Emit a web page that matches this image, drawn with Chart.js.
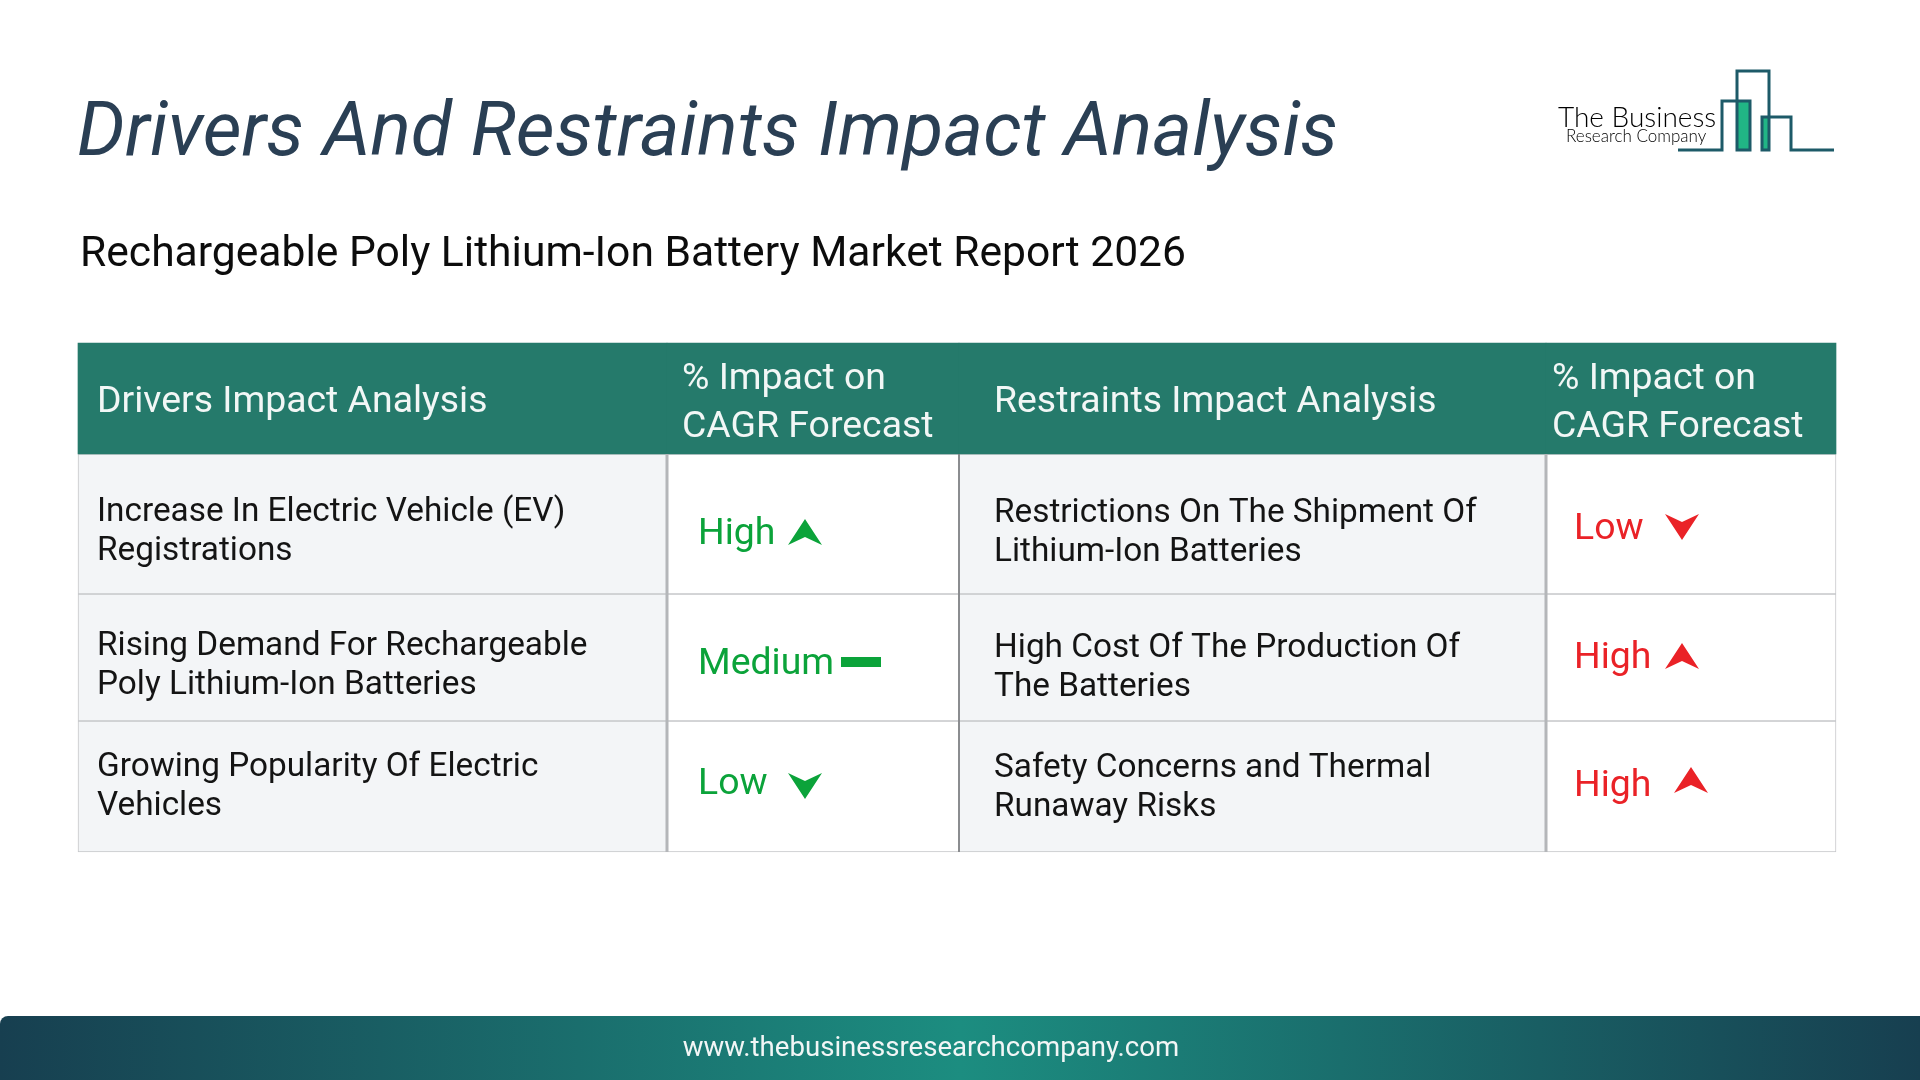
<!DOCTYPE html>
<html>
<head>
<meta charset="utf-8">
<title>Drivers And Restraints Impact Analysis</title>
<script src="https://cdn.jsdelivr.net/npm/chart.js@4"></script>
<style>
  html, body { margin: 0; width: 1920px; height: 1080px; overflow: hidden; background: #fff; font-family: Roboto, sans-serif; }
  canvas { position: absolute; left: 0; top: 0; }
  .abs { position: absolute; white-space: nowrap; line-height: 1; }
  #title { left: 77px; top: 92px; font-size: 75.5px; font-style: italic; color: #2a3f54; }
  #subtitle { left: 80px; top: 230px; font-size: 42.6px; color: #0c0c0c; }
  #footer { position: absolute; left: 0; top: 1016px; width: 1920px; height: 64px; border-top-left-radius: 8px;
    background: linear-gradient(90deg, #173f50 0%, #1c8d80 50%, #173f50 100%); }
  #url { left: 0; width: 1862px; top: 1033px; text-align: center; font-size: 27.6px; color: #f2f6f6; }
  #logo { position: absolute; left: 0; top: 0; }
</style>
</head>
<body>
<canvas id="chart" width="1920" height="1080"></canvas>
<div class="abs" id="title">Drivers And Restraints Impact Analysis</div>
<div class="abs" id="subtitle">Rechargeable Poly Lithium-Ion Battery Market Report 2026</div>

<svg id="logo" width="1920" height="200">
  <rect x="1737" y="101" width="13" height="49" fill="#21b585"/>
  <rect x="1762" y="117" width="7" height="33" fill="#21b585"/>
  <g fill="none" stroke="#1d5a68" stroke-width="3">
    <path d="M1678 150H1722V101H1750V150H1737V71H1769V150H1762V117H1791V150H1834"/>
  </g>
  <text x="1558" y="127" font-family="Lato" font-weight="300" font-size="28" fill="#000">The Business</text>
  <text x="1566" y="142" font-family="Lato" font-weight="300" font-size="17" fill="#000">Research Company</text>
</svg>

<div id="footer"></div>
<div class="abs" id="url">www.thebusinessresearchcompany.com</div>

<script>
const headers = ["Drivers Impact Analysis", "% Impact on\nCAGR Forecast", "Restraints Impact Analysis", "% Impact on\nCAGR Forecast"];
const drivers = [
  "Increase In Electric Vehicle (EV)\nRegistrations",
  "Rising Demand For Rechargeable\nPoly Lithium-Ion Batteries",
  "Growing Popularity Of Electric\nVehicles"
];
const driverImpact = ["High", "Medium", "Low"];
const restraints = [
  "Restrictions On The Shipment Of\nLithium-Ion Batteries",
  "High Cost Of The Production Of\nThe Batteries",
  "Safety Concerns and Thermal\nRunaway Risks"
];
const restraintImpact = ["Low", "High", "High"];

// layout, in page pixels
const colEdges = [78, 667, 959, 1546, 1836];
const rowEdges = [343, 454, 594, 721, 852];
const textX = [97, 682, 994, 1552];
const impactX = [698, 1574];
const headBase = [412, 389, 437];
const nameBase = [[521, 655, 776], [522, 657, 777]];
const impactBase = [[544, 674, 794], [539, 668, 796]];
const driverMarkX = [805, 861, 805];
const driverMarkY = [532, 662, 786];
const restraintMarkX = [1682, 1682, 1691];
const restraintMarkY = [527, 656, 780];

const GREEN = "#0ba33a", RED = "#ea2227";
const HEAD = "#257a6b", SHADE = "#f3f5f7", LINE = "#c6c7ca";

function arrow(color, up) {
  const c = document.createElement("canvas");
  c.width = 34; c.height = 26;
  const g = c.getContext("2d");
  if (!up) { g.translate(0, 26); g.scale(1, -1); }
  g.fillStyle = color;
  g.beginPath();
  g.moveTo(17, 0); g.lineTo(34, 26); g.lineTo(17, 18); g.lineTo(0, 26);
  g.closePath();
  g.fill();
  return c;
}
function dash(color) {
  const c = document.createElement("canvas");
  c.width = 40; c.height = 10;
  const g = c.getContext("2d");
  g.fillStyle = color;
  g.fillRect(0, 0, 40, 10);
  return c;
}
function markFor(level, color) {
  if (level === "High") return arrow(color, true);
  if (level === "Low") return arrow(color, false);
  return dash(color);
}

// one floating bar per table cell, one dataset per row
const rowSets = [];
for (let r = 0; r < rowEdges.length - 1; r++) {
  const top = rowEdges[r], bottom = rowEdges[r + 1];
  const cells = [];
  for (let c = 0; c < colEdges.length - 1; c++) {
    cells.push({ x: [colEdges[c], colEdges[c + 1]], y: (top + bottom) / 2 });
  }
  rowSets.push({
    type: "bar",
    indexAxis: "y",
    grouped: false,
    order: 3,
    data: cells,
    barThickness: bottom - top,
    borderSkipped: false,
    borderWidth: r === 0 ? 0 : 1,
    borderColor: LINE,
    backgroundColor: cells.map((_, c) => r === 0 ? HEAD : (c % 2 === 0 ? SHADE : "#ffffff"))
  });
}

function divider(x, color, width) {
  return {
    type: "line",
    order: 2,
    data: [{ x: x, y: rowEdges[1] }, { x: x, y: rowEdges[rowEdges.length - 1] }],
    borderColor: color,
    borderWidth: width,
    pointRadius: 0
  };
}

function markers(levels, xs, ys, color) {
  return {
    type: "scatter",
    order: 1,
    data: levels.map((_, i) => ({ x: xs[i], y: ys[i] })),
    pointStyle: levels.map(l => markFor(l, color))
  };
}

const tableText = {
  id: "tableText",
  afterDatasetsDraw(chart) {
    const ctx = chart.ctx, sx = chart.scales.x, sy = chart.scales.y;
    const put = (text, x, y, font, color) => {
      ctx.font = font;
      ctx.fillStyle = color;
      ctx.fillText(text, sx.getPixelForValue(x), sy.getPixelForValue(y));
    };
    ctx.save();
    ctx.textBaseline = "alphabetic";
    ctx.textAlign = "left";
    headers.forEach((h, c) => {
      const lines = h.split("\n");
      lines.forEach((t, i) => {
        const y = lines.length === 1 ? headBase[0] : headBase[i + 1];
        put(t, textX[c], y, "37.4px Roboto", "#f2f7f6");
      });
    });
    [drivers, restraints].forEach((names, side) => {
      names.forEach((n, r) => {
        n.split("\n").forEach((t, i) => {
          put(t, textX[side * 2], nameBase[side][r] + i * 39, "33.35px Roboto", "#141414");
        });
      });
    });
    driverImpact.forEach((t, r) => put(t, impactX[0], impactBase[0][r], "37.4px Roboto", GREEN));
    restraintImpact.forEach((t, r) => put(t, impactX[1], impactBase[1][r], "37.4px Roboto", RED));
    ctx.restore();
  }
};

new Chart(document.getElementById("chart"), {
  data: {
    datasets: [
      ...rowSets,
      divider(colEdges[1], "#b4b6b9", 3),
      divider(colEdges[2], "#808285", 1),
      divider(colEdges[3], "#b4b6b9", 3),
      markers(driverImpact, driverMarkX, driverMarkY, GREEN),
      markers(restraintImpact, restraintMarkX, restraintMarkY, RED)
    ]
  },
  options: {
    responsive: false,
    devicePixelRatio: 1,
    animation: false,
    layout: { padding: 0, autoPadding: false },
    plugins: { legend: { display: false }, tooltip: { enabled: false } },
    scales: {
      x: { type: "linear", display: false, min: 0, max: 1920, offset: false },
      y: { type: "linear", display: false, min: 0, max: 1080, reverse: true, offset: false }
    }
  },
  plugins: [tableText]
});
</script>
</body>
</html>
